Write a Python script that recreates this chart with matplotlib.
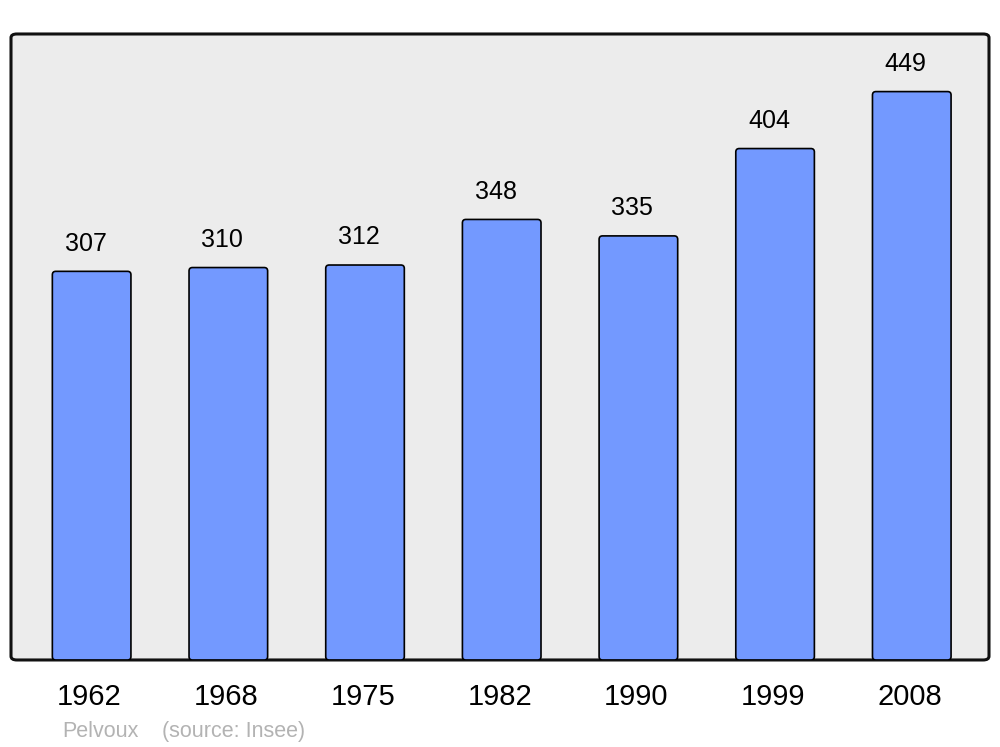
import matplotlib as mpl
import matplotlib.pyplot as plt
from matplotlib.patches import FancyBboxPatch

mpl.use("Agg")

years = ["1962", "1968", "1975", "1982", "1990", "1999", "2008"]
population = [307, 310, 312, 348, 335, 404, 449]

plt.rcParams.update({"font.family": ["Liberation Sans", "DejaVu Sans"]})

fig = plt.figure(figsize=(10, 7.47), dpi=100)
ax = fig.add_axes([0.011, 0.1165, 0.978, 0.838])

# rounded grey frame instead of spines
frame = FancyBboxPatch(
    (0, 0), 1, 1,
    boxstyle="round,pad=0,rounding_size=0.006",
    transform=ax.transAxes,
    facecolor="#ececec",
    edgecolor="#111111",
    linewidth=2.2,
    clip_on=False,
    zorder=0,
)
ax.add_patch(frame)
ax.set_facecolor("none")
for s in ax.spines.values():
    s.set_visible(False)

ax.set_xlim(-0.59, 6.565)
ax.set_ylim(0, 494.5)

x = range(len(years))
bars = ax.bar(x, population, width=0.575, color="#7399ff", edgecolor="black",
              linewidth=1.2, zorder=2)

# swap plain rectangles for slightly rounded ones
aspect = (494.5 / (0.838 * 747)) / (7.155 / (0.978 * 1000))
for r in bars:
    r.set_visible(False)
    ax.add_patch(FancyBboxPatch(
        (r.get_x(), r.get_y()), r.get_width(), r.get_height(),
        boxstyle="round,pad=0,rounding_size=0.025",
        mutation_aspect=aspect,
        facecolor="#7399ff", edgecolor="black", linewidth=1.2, zorder=2,
    ))

for i, v in enumerate(population):
    ax.text(i - 0.045, v + 12.5, str(v), ha="center", va="bottom", fontsize=18)

ax.set_yticks([])
ax.set_xticks([i - 0.015 for i in x])
ax.set_xticklabels(years, fontsize=21)
ax.tick_params(axis="x", length=0, pad=16.5)

fig.text(0.062, 0.0205, "Pelvoux", color="#b3b3b3",
         fontsize=15.5, ha="left", va="center")
fig.text(0.162, 0.0205, "(source: Insee)", color="#b3b3b3",
         fontsize=15.5, ha="left", va="center")

plt.savefig("out.png", dpi=100)
plt.close()
